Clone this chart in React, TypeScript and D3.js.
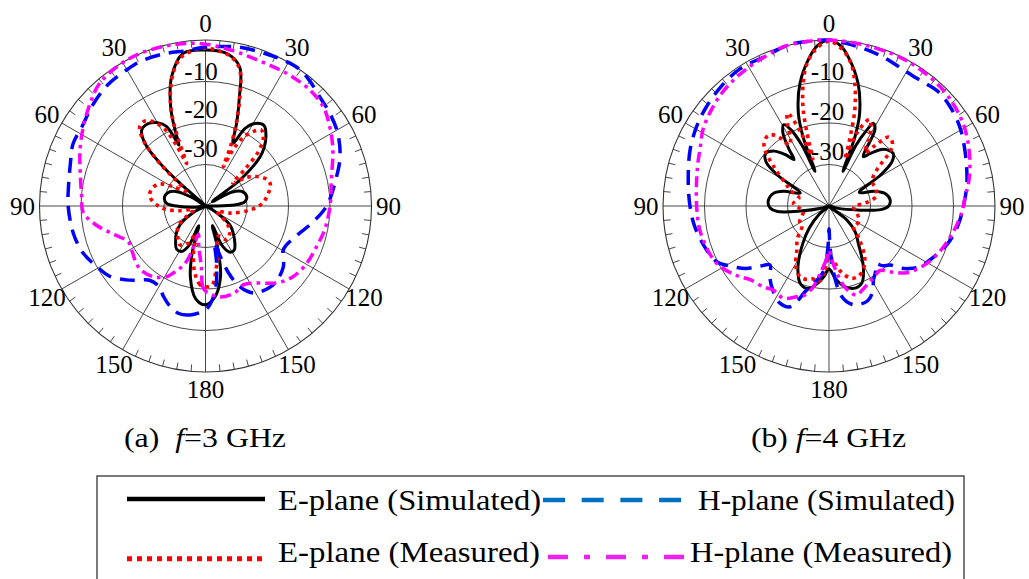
import React from 'react';
import * as d3 from 'd3';

const WIDTH = 1029;
const HEIGHT = 579;
const FONT = "'Liberation Serif', 'Times New Roman', Times, serif";

// ---- radial axis ----
const DB_MIN = -40;
const DB_MAX = 0;
const ringLevels = [-10, -20, -30];
const ringLabels = ['-10', '-20', '-30'];
const spokeAngles = [0, 30, 60, 90, 120, 150, 180, 210, 240, 270, 300, 330];
const spokeLabels = ['0', '30', '60', '90', '120', '150', '180', '150', '120', '90', '60', '30'];
const tickAngles = d3.range(0, 360, 5).filter((a) => a % 30 !== 0);

// ---- data: angle (deg, clockwise from top) and normalized gain (dB) ----
// f = 3 GHz
const eSim3Ang = [-180, -174, -168, -164, -161, -157, -152, -146, -140, -133, -126, -118, -108, -96, -90, -86, -79, -71, -64, -58, -53, -48.3, -46.8, -44, -40, -35, -30, -26, -23.5, -21.9, -19.3, -14.7, -8.3, 0, 8, 13.8, 17.6, 20.5, 23.8, 27, 31, 36, 41, 45, 48, 53, 57, 62, 68, 77, 84, 88, 93, 108, 118, 128, 135, 142, 147, 152, 157, 160.5, 164, 168, 174];
const eSim3Db = [-16.2, -17.5, -22.5, -28.5, -35, -29.5, -27.6, -27.5, -28.8, -30.4, -32.5, -37, -40, -37, -33, -30.6, -29.9, -30.3, -32, -36, -40, -31.8, -25, -19, -16.1, -15.8, -16.8, -18.7, -24, -20.3, -14.6, -7.8, -2.8, -2.4, -2.9, -5.5, -13.2, -18.5, -23.5, -19, -16.8, -16, -17.8, -20, -22.3, -29.6, -38, -33, -30.6, -29.8, -30.5, -33, -40, -40, -38, -32.5, -30.5, -28.5, -27.3, -27.4, -29.5, -35, -29, -22.6, -18];

const eMeas3Ang = [-180, -176, -171, -166, -161, -155, -147, -138, -127, -118, -108, -100, -95, -90, -80, -72, -65, -59, -54, -50, -47, -44, -40, -36, -32, -28, -25.5, -24, -22, -19.5, -15, -10, -5, 0, 5, 10, 14, 17.5, 20.5, 23, 24.4, 26, 29, 33, 36.4, 40, 44, 47, 50, 55, 60, 66, 71, 80, 88, 95, 106, 115, 122, 130, 140, 148, 155, 160, 165, 170, 175];
const eMeas3Db = [-20.5, -21, -23.6, -28, -33, -30, -28.8, -30, -31.7, -35, -37, -33.5, -30.5, -28.6, -26.3, -26.5, -27.5, -31, -34, -32, -25, -19, -15.3, -14.8, -16, -19, -24, -28.8, -22, -15, -8.5, -4, -2.5, -2, -2.5, -3.6, -6, -12.5, -19, -25, -29.6, -25, -21, -18.5, -17.3, -18.3, -21.5, -27, -31.4, -28, -25.8, -24, -23.5, -24.8, -26.5, -29.2, -33.8, -37, -36, -33, -31, -30.4, -32, -32, -28, -25, -21];

const hSim3Ang = [-180, -172, -166, -160, -155, -150, -143, -137, -133, -126, -119, -111, -102, -90, -83, -72, -65, -57, -48, -39, -30, -24, -15, -7, 0, 7, 11, 20, 28, 34, 40, 46, 53, 61, 70, 79, 90, 99, 108, 119, 128, 138, 146, 151, 157, 161, 164, 166, 169, 173, 177];
const hSim3Db = [-15, -13.5, -13.3, -14.5, -16, -17.6, -17.6, -15.5, -13.9, -11.3, -10, -8.4, -7.5, -6.9, -6.7, -5.8, -4.75, -4.6, -3.5, -2.5, -2.1, -1.8, -2.0, -2.3, -1.7, -1.3, -0.9, -0.6, -0.2, 0, -0.8, -1.9, -2.6, -3.6, -5.5, -8.1, -10.8, -14, -16.9, -18.5, -16.2, -15, -15.3, -16, -18.9, -23, -28, -31, -26, -20, -16.5];

const hMeas3Ang = [-180, -178, -176, -170, -166, -163, -160, -157, -151, -143.5, -135, -129, -122, -115, -107, -100, -93, -86, -75, -66, -57, -48, -41, -32, -23, -10, 0, 10, 18, 26, 33, 42, 50, 57.5, 66, 78, 90, 101, 110, 120, 129, 137, 148, 154, 162, 171, 176];
const hMeas3Db = [-19.5, -20.6, -25.4, -30.5, -33, -28, -25, -23.5, -20.5, -18.8, -18.1, -18.4, -19.2, -19.5, -16.8, -13.3, -10.5, -10.1, -8.75, -6.9, -4.9, -2.7, -1.0, -0.2, 0, -0.4, -1.0, -2.0, -2.6, -2.7, -2.5, -2.4, -2.9, -4.5, -6.4, -9, -10, -10.7, -11.5, -12, -12.9, -14.7, -18.1, -18.9, -17.9, -17.8, -18.6];

// f = 4 GHz
const eSim4Ang = [-180, -176, -172, -166, -160, -153, -145, -138, -130, -118, -106, -100, -96, -92, -87, -82, -77, -72, -66, -59, -55, -50.5, -45, -40, -37, -35, -32, -29, -26.5, -24, -22, -20.5, -18.3, -13.3, -7.3, -4, 0, 4, 7.3, 13.3, 18.3, 20.5, 22, 24, 26.5, 28.2, 31, 34.8, 38, 44, 50.7, 55, 59, 66, 72, 78, 84, 90, 94, 98, 105, 118, 128, 135, 141.8, 150.5, 157, 163.5, 170, 175];
const eSim4Db = [-24.8, -23, -21.3, -19.5, -20, -23.5, -29, -33, -37, -40, -38, -33, -27.5, -25.8, -25.3, -25.5, -26.3, -28.5, -32.4, -25.5, -21.5, -20.2, -21.3, -24, -26, -23, -19, -17.6, -19.5, -24, -31, -22, -16.5, -9.6, -3.7, -1.2, 0, -1.2, -3.7, -9.6, -16.5, -22, -31, -24, -19.5, -17.4, -18.5, -25.5, -24, -21, -20, -21.5, -25.5, -32, -28.5, -26, -25.2, -25.6, -27.5, -33, -38, -40, -34.6, -31, -28.6, -23.2, -19.8, -19.3, -20.5, -22.5];

const eMeas4Ang = [-180, -176, -172, -167.8, -163, -157.7, -151, -144, -136, -126, -118, -110, -103, -95, -86, -75, -68, -62, -55, -48, -44, -40, -36, -33, -30, -27, -24, -21, -19, -17.5, -15, -12, -9, -5, 0, 5, 9, 12, 15, 17.5, 19, 21, 25, 28, 31, 34, 37, 41, 45, 48, 53, 60, 70, 78, 85, 92, 105, 115, 125, 130, 138, 145, 152, 158, 163, 170, 176];
const eMeas4Db = [-28, -24, -21.5, -22, -21.5, -21.6, -23.5, -26.8, -29, -32, -32, -33, -33.7, -33, -31.4, -32.5, -30, -28, -24, -19, -17.8, -17.6, -19.5, -22.5, -21.5, -18, -15.5, -21, -28, -24, -16, -10, -5.5, -2.2, -0.3, -2.2, -5.5, -10, -16, -24, -28, -21, -17, -18.5, -21.5, -24.5, -22, -18, -18.4, -20, -25.6, -28, -28, -28.3, -31, -34, -33, -32, -32, -32.3, -29, -25, -22.5, -21.6, -21.8, -24, -27];

const hSim4Ang = [-180, -178.5, -176, -172.7, -165, -159, -153, -146, -140, -135, -131, -127, -122, -116.4, -110, -99, -90, -79.5, -68, -59, -51, -42, -33, -23, -14, -7, 0, 6, 13, 20, 27, 33, 39, 44, 50, 56, 61, 67, 74, 82, 90, 98, 106, 112, 118, 124, 128, 131, 134, 138, 141, 145, 149, 153, 158, 163, 167, 172, 176, 178.5];
const hSim4Db = [-34.5, -30, -25, -22.8, -19, -14, -13.8, -15.7, -17.8, -19.9, -17.9, -15, -12.5, -9.8, -8.7, -7.3, -6.5, -5.5, -3.9, -2.8, -2.0, -1.2, -0.6, -0.8, 0, 0, 0, -0.6, -1.2, -1.8, -2.5, -2.7, -2.3, -1.9, -2.2, -2.8, -3.5, -4.5, -5.5, -6.5, -7.6, -8.5, -9.7, -11, -12.4, -13.8, -15.5, -17.2, -19.5, -20.6, -22, -20.5, -19.2, -16.8, -15.3, -15.2, -15.7, -18, -23.8, -30];

const hMeas4Ang = [-180, -177, -173, -169, -165, -160.4, -153.7, -146.5, -140.9, -133, -127.5, -117, -102, -90, -74, -66, -58.3, -50, -43.6, -37, -30.3, -23, -16, -8, 0, 7, 14, 22, 29, 36, 43, 50, 58, 65, 72.5, 80, 86, 93, 101, 109, 116.6, 124, 130.6, 136, 141.7, 147, 153, 158, 162.7, 166, 169.7, 173, 177];
const hMeas4Db = [-29.3, -27, -24, -20.2, -17.8, -16.8, -15.2, -15.7, -14.9, -14, -12.3, -9.6, -8.4, -8.1, -7.0, -6, -4.4, -3.3, -2.5, -1.9, -1.4, -0.8, -0.1, 0, 0, -0.2, -0.3, -0.3, -0.3, -0.5, -0.7, -1.2, -2.0, -3.1, -4.4, -5.8, -7.1, -8, -9.3, -10.6, -11.9, -13.5, -15.3, -17.8, -20.2, -19.8, -19.1, -18.3, -17.5, -18.5, -20.6, -23.5, -27];

// ---- legend ----
const legendLabels = ['E-plane (Simulated)', 'H-plane (Simulated)', 'E-plane (Measured)', 'H-plane (Measured)'];

type SeriesStyle = { color: string; width: number; dash?: string };
const styleESim: SeriesStyle = { color: '#000000', width: 3 };
const styleEMeas: SeriesStyle = { color: '#ff0000', width: 3.6, dash: '3.6 4.4' };
const styleHSim: SeriesStyle = { color: '#0000ff', width: 3.5, dash: '15 9' };
const styleHMeas: SeriesStyle = { color: '#ff00ff', width: 3.5, dash: '11 5 3.5 5' };

const R = 166;

type Series = { ang: number[]; db: number[]; style: SeriesStyle };

function zip(ang: number[], db: number[]): [number, number][] {
  return ang.map((a, i) => [a, db[i]]);
}

const textStyle = { fontFamily: FONT };

function PolarPanel(props: {
  cx: number;
  cy: number;
  series: Series[];
  ringLabelDx: number;
  ringLabelDy: number[];
}) {
  const { cx, cy, series, ringLabelDx, ringLabelDy } = props;
  const r = d3.scaleLinear().domain([DB_MIN, DB_MAX]).range([0, R]).clamp(true);
  const line = d3
    .lineRadial<[number, number]>()
    .angle((d) => (d[0] * Math.PI) / 180)
    .radius((d) => r(d[1]))
    .curve(d3.curveCatmullRomClosed.alpha(0.5));
  const pt = (deg: number, rad: number) => {
    const a = (deg * Math.PI) / 180;
    return [rad * Math.sin(a), -rad * Math.cos(a)];
  };
  const gridColor = '#333';
  return (
    <g transform={`translate(${cx},${cy})`}>
      {ringLevels.map((lv) => (
        <circle key={lv} r={r(lv)} fill="none" stroke={gridColor} strokeWidth={0.9} />
      ))}
      <circle r={r(DB_MAX)} fill="none" stroke={gridColor} strokeWidth={1.1} />
      {spokeAngles.map((a) => {
        const [x, y] = pt(a, R);
        return <line key={a} x1={0} y1={0} x2={x} y2={y} stroke={gridColor} strokeWidth={0.9} />;
      })}
      {tickAngles.map((a) => {
        const [x1, y1] = pt(a, R);
        const [x2, y2] = pt(a, R - 7);
        return <line key={a} x1={x1} y1={y1} x2={x2} y2={y2} stroke={gridColor} strokeWidth={0.9} />;
      })}
      {spokeAngles.map((a, i) => {
        const [x, y] = pt(a, R + 17);
        return (
          <text key={a} x={x} y={y} textAnchor="middle" dominantBaseline="central" style={textStyle} fontSize={25} fill="#000">
            {spokeLabels[i]}
          </text>
        );
      })}
      {series.map((s, i) => (
        <path
          key={i}
          d={line(zip(s.ang, s.db)) || ''}
          fill="none"
          stroke={s.style.color}
          strokeWidth={s.style.width}
          strokeDasharray={s.style.dash}
          strokeLinejoin="round"
        />
      ))}
      {ringLevels.map((lv, i) => (
        <text key={lv} x={ringLabelDx} y={-r(lv) + ringLabelDy[i]} textAnchor="middle" style={textStyle} fontSize={25} fill="#000">
          {ringLabels[i]}
        </text>
      ))}
    </g>
  );
}

export default function App() {
  const seriesA: Series[] = [
    { ang: eSim3Ang, db: eSim3Db, style: styleESim },
    { ang: eMeas3Ang, db: eMeas3Db, style: styleEMeas },
    { ang: hSim3Ang, db: hSim3Db, style: styleHSim },
    { ang: hMeas3Ang, db: hMeas3Db, style: styleHMeas },
  ];
  const seriesB: Series[] = [
    { ang: eSim4Ang, db: eSim4Db, style: styleESim },
    { ang: eMeas4Ang, db: eMeas4Db, style: styleEMeas },
    { ang: hSim4Ang, db: hSim4Db, style: styleHSim },
    { ang: hMeas4Ang, db: hMeas4Db, style: styleHMeas },
  ];
  return (
    <svg
      width={WIDTH}
      height={HEIGHT}
      viewBox={`0 0 ${WIDTH} ${HEIGHT}`}
      style={{ position: 'absolute', left: 0, top: 0, background: '#fff' }}
    >
      <rect x={0} y={0} width={WIDTH} height={HEIGHT} fill="#fff" />
      <PolarPanel cx={205.5} cy={206} series={seriesA} ringLabelDx={-4.5} ringLabelDy={[-1.5, -4.7, -7.8]} />
      <PolarPanel cx={829} cy={206} series={seriesB} ringLabelDx={-1.5} ringLabelDy={[-1.5, -3, -4.5]} />

      <text x={124} y={447} style={{ ...textStyle, whiteSpace: 'pre' }} fontSize={28} textLength={162} lengthAdjust="spacingAndGlyphs">
        {'(a)  '}
        <tspan fontStyle="italic">f</tspan>
        {'=3 GHz'}
      </text>
      <text x={751} y={447} style={{ ...textStyle, whiteSpace: 'pre' }} fontSize={28} textLength={155} lengthAdjust="spacingAndGlyphs">
        {'(b) '}
        <tspan fontStyle="italic">f</tspan>
        {'=4 GHz'}
      </text>

      <g>
        <rect x={97} y={476} width={867} height={130} fill="none" stroke="#333" strokeWidth={1.3} />
        <line x1={127} x2={265} y1={499} y2={499} stroke="#000" strokeWidth={4.5} />
        <text x={278} y={510} style={textStyle} fontSize={30} textLength={263} lengthAdjust="spacingAndGlyphs">{legendLabels[0]}</text>
        <line x1={543} x2={681} y1={500} y2={500} stroke="#0070c0" strokeWidth={4.5} strokeDasharray="22 16.7" />
        <text x={698} y={510} style={textStyle} fontSize={30} textLength={257} lengthAdjust="spacingAndGlyphs">{legendLabels[1]}</text>
        <line x1={127} x2={265} y1={558.7} y2={558.7} stroke="#ff0000" strokeWidth={5} strokeDasharray="5 5" />
        <text x={278} y={562} style={textStyle} fontSize={30} textLength={262} lengthAdjust="spacingAndGlyphs">{legendLabels[2]}</text>
        <line x1={548} x2={685} y1={557} y2={557} stroke="#ee22ee" strokeWidth={4.5} strokeDasharray="20 16 6 16" />
        <text x={690} y={562} style={textStyle} fontSize={30} textLength={262} lengthAdjust="spacingAndGlyphs">{legendLabels[3]}</text>
      </g>
    </svg>
  );
}
